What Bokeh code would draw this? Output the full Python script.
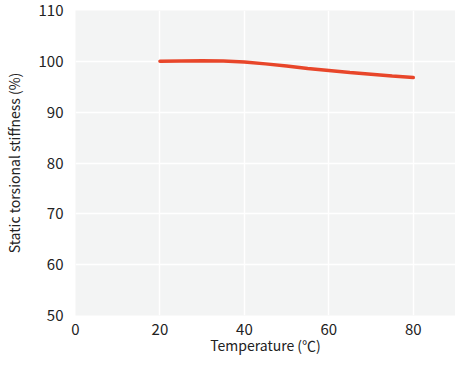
from bokeh.plotting import figure
from bokeh.embed import file_html
from bokeh.resources import INLINE
from bokeh.models import Range1d, FixedTicker

temperature = [20, 25, 30, 35, 40, 45, 50, 55, 60, 65, 70, 75, 80]
stiffness = [100.0, 100.05, 100.1, 100.05, 99.85, 99.5, 99.1, 98.6, 98.2, 97.8, 97.45, 97.1, 96.8]
x_ticks = [0, 20, 40, 60, 80]
y_ticks = [50, 60, 70, 80, 90, 100, 110]

FONT = "Noto Sans CJK JP"

p = figure(width=455, height=357, output_backend="svg", toolbar_location=None,
           x_range=Range1d(0, 90), y_range=Range1d(50, 110),
           min_border_left=71, min_border_right=0, min_border_top=10, min_border_bottom=36)
p.background_fill_color = "#f3f4f4"
p.border_fill_color = "white"
p.outline_line_color = None

p.line(temperature, stiffness, line_color="#e8462a", line_width=3.5, line_cap="round")

for ax in (p.xaxis[0], p.yaxis[0]):
    ax.axis_line_color = None
    ax.major_tick_line_color = None
    ax.minor_tick_line_color = None
    ax.major_label_text_font = FONT
    ax.major_label_text_font_size = "15px"
    ax.major_label_text_color = "#222222"
    ax.axis_label_text_font = FONT
    ax.axis_label_text_font_size = "14px"
    ax.axis_label_text_font_style = "normal"
    ax.axis_label_text_color = "#222222"

p.xaxis.ticker = FixedTicker(ticks=x_ticks)
p.yaxis.ticker = FixedTicker(ticks=y_ticks)
p.xaxis.axis_label = "Temperature (℃)"
p.yaxis.axis_label = "Static torsional stiffness (%)"
p.xaxis.major_label_standoff = 2
p.yaxis.major_label_standoff = 6
p.xaxis.axis_label_standoff = -3
p.yaxis.axis_label_standoff = 12

p.xgrid.grid_line_color = "white"
p.ygrid.grid_line_color = "white"
p.xgrid.grid_line_width = 1.5
p.ygrid.grid_line_width = 1.5

open("out.html", "w").write(file_html(p, INLINE))
